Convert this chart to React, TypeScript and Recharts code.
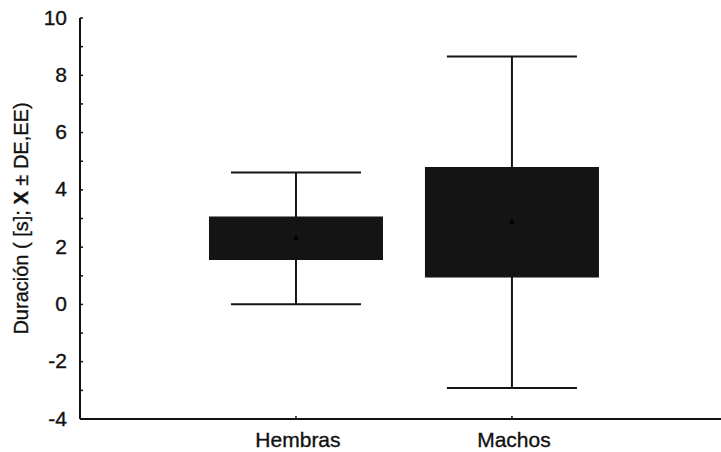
import React from 'react';
import { ComposedChart, Bar, Scatter, ErrorBar, XAxis, YAxis, Label } from 'recharts';

// Duration per group: mean, standard error (box) and standard deviation (whiskers)
const groups = ['Hembras', 'Machos'];
const positions = [1, 2];
const means = [2.31, 2.87];
const stdErrors = [0.76, 1.93];
const stdDevs = [2.3, 5.79];
const yTicks = [-4, -3, -2, -1, 0, 1, 2, 3, 4, 5, 6, 7, 8, 9, 10];
const yLabelTicks = [-4, -2, 0, 2, 4, 6, 8, 10];

const data = groups.map((name, i) => ({
  name,
  x: positions[i],
  mean: means[i],
  box: [means[i] - stdErrors[i], means[i] + stdErrors[i]],
  sd: stdDevs[i],
}));

const FONT = '"Liberation Sans", Arial, Helvetica, sans-serif';
const INK = '#111';
const Y_MARGIN = 13;
const X_MARGIN = 14;
const INNER_TICK = 3;

const textStyle = {
  fontFamily: FONT,
  fontSize: 21,
  fill: INK,
  stroke: INK,
  strokeWidth: 0.35,
};

const YTick = (props: any) => {
  const { x, y, payload } = props;
  const axisX = x + Y_MARGIN;
  const showLabel = yLabelTicks.includes(payload.value);
  return (
    <g>
      <line x1={axisX} y1={y} x2={axisX + INNER_TICK} y2={y} stroke={INK} strokeWidth={1.5} />
      {showLabel && (
        <text x={x} y={y - 1} textAnchor="end" dominantBaseline="central" {...textStyle}>
          {payload.value}
        </text>
      )}
    </g>
  );
};

const XTick = (props: any) => {
  const { x, y, payload } = props;
  const axisY = y - X_MARGIN;
  const idx = positions.indexOf(payload.value);
  return (
    <g>
      <line x1={x} y1={axisY} x2={x} y2={axisY - INNER_TICK} stroke={INK} strokeWidth={1.5} />
      <text x={x + 2} y={y - 1} dy="0.71em" textAnchor="middle" {...textStyle}>
        {idx >= 0 ? groups[idx] : ''}
      </text>
    </g>
  );
};

const YTitle = (props: any) => {
  const { viewBox } = props;
  const cx = viewBox.x + 21;
  const cy = viewBox.y + viewBox.height / 2;
  return (
    <text
      x={cx}
      y={cy}
      transform={`rotate(-90, ${cx}, ${cy})`}
      textAnchor="middle"
      dominantBaseline="central"
      {...textStyle}
      fontSize={20}
    >
      <tspan>Duración ( [s]; </tspan>
      <tspan fontWeight="bold">X</tspan>
      <tspan> ± DE,EE)</tspan>
    </text>
  );
};

const MeanDot = (props: any) => {
  const { cx, cy } = props;
  return <rect x={cx - 2} y={cy - 2} width={4} height={4} fill="#000" />;
};

export default function App() {
  return (
    <div style={{ position: 'absolute', left: 0, top: 0, background: '#fff' }}>
      <ComposedChart width={721} height={452} data={data} margin={{ top: 18, right: 0, bottom: 0, left: 0 }}>
        <XAxis
          dataKey="x"
          type="number"
          domain={[0, 2.968]}
          ticks={positions}
          height={33}
          axisLine={{ stroke: INK, strokeWidth: 2 }}
          tickLine={false}
          tickSize={0}
          tickMargin={X_MARGIN}
          tick={<XTick />}
          interval={0}
        />
        <YAxis
          type="number"
          domain={[-4, 10]}
          ticks={yTicks}
          width={80}
          axisLine={{ stroke: INK, strokeWidth: 2 }}
          tickLine={false}
          tickSize={0}
          tickMargin={Y_MARGIN}
          tick={<YTick />}
          interval={0}
          allowDataOverflow
        >
          <Label content={<YTitle />} />
        </YAxis>
        <Bar dataKey="box" barSize={174} fill="#141414" isAnimationActive={false} />
        <Scatter dataKey="mean" shape={<MeanDot />} isAnimationActive={false}>
          <ErrorBar dataKey="sd" direction="y" width={65} stroke="#141414" strokeWidth={2} isAnimationActive={false} />
        </Scatter>
      </ComposedChart>
    </div>
  );
}
